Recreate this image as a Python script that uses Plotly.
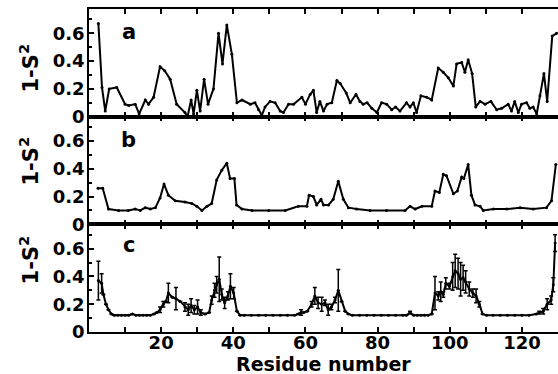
import plotly.graph_objects as go
from plotly.subplots import make_subplots

# ---- data ----
a_res = [2.6, 3.6, 4.5, 5.6, 7.7, 10, 11, 12.8, 13.9, 15.6, 16.5, 17.9, 19.7, 21, 22.5, 24.3,
         26.6, 27.3, 28.3, 29, 29.9, 30.8, 31.9, 33, 34.5, 35.9, 37, 38.2, 39.6, 41, 42.4, 44.7,
         46, 47, 47.9, 48.8, 50.2, 51.6, 53, 53.9, 55.3, 56.7, 59, 60, 61.3, 62.2, 63.1, 64, 65,
         66, 67.3, 68.7, 69.6, 71.3, 72.4, 74, 75.1, 76, 77.1, 78.4, 79.8, 81.1, 82.5, 83.9, 85,
         86.2, 88, 89, 89.9, 90.8, 92, 93.6, 95, 96.8, 98.2, 99.6, 101, 101.9, 103.3, 104.2,
         105.1, 106.2, 107.2, 108.4, 109.8, 111.4, 113, 114.4, 116.2, 117.1, 118, 119, 119.9,
         121.3, 122.2, 123.1, 124.1, 125, 126.1, 127, 128.4, 129.6]
a_val = [0.67, 0.21, 0.04, 0.20, 0.21, 0.09, 0.08, 0.09, 0.02, 0.12, 0.09, 0.14, 0.36, 0.33, 0.27, 0.09,
         0.03, 0.00, 0.12, 0.02, 0.19, 0.04, 0.27, 0.09, 0.20, 0.60, 0.38, 0.66, 0.45, 0.10, 0.12, 0.09,
         0.10, 0.05, 0.01, 0.07, 0.11, 0.10, 0.04, 0.03, 0.09, 0.09, 0.14, 0.09, 0.16, 0.19, 0.03, 0.11, 0.04,
         0.09, 0.10, 0.26, 0.24, 0.17, 0.10, 0.16, 0.11, 0.09, 0.10, 0.06, 0.03, 0.10, 0.09, 0.05, 0.07,
         0.04, 0.10, 0.07, 0.10, 0.03, 0.15, 0.14, 0.12, 0.35, 0.32, 0.28, 0.22, 0.38, 0.39, 0.32,
         0.41, 0.31, 0.07, 0.11, 0.09, 0.11, 0.05, 0.06, 0.09, 0.04, 0.11, 0.03, 0.09,
         0.10, 0.06, 0.07, 0.02, 0.15, 0.31, 0.11, 0.58, 0.60]

b_res = [2.5, 3.8, 5.4, 8.2, 10.9, 12.8, 14.2, 15.6, 17, 18.4, 19.7, 20.8, 22, 23.9, 26.6, 28.5,
         29.9, 31.3, 32.7, 34, 35.4, 36.8, 38.2, 39.1, 40.3, 40.9, 42.4, 45.2, 49.8, 54.4, 58, 60.4,
         61, 62.2, 63.1, 64.3, 65, 66.4, 67.7, 69.1, 70.5, 71.9, 74.2, 77.9, 82.5, 87.6, 89, 90.4,
         92.3, 95, 95.9, 97.1, 98.2, 99.1, 101, 102.1, 103.3, 103.9, 105.1, 106, 107, 108.4, 109.3,
         112.1, 115.8, 119.5, 123.1, 126.8, 128.2, 129.4]
b_val = [0.26, 0.26, 0.11, 0.10, 0.10, 0.11, 0.10, 0.12, 0.11, 0.12, 0.19, 0.29, 0.21, 0.17, 0.16, 0.15,
         0.13, 0.10, 0.13, 0.15, 0.32, 0.39, 0.44, 0.33, 0.33, 0.14, 0.11, 0.10, 0.10, 0.10, 0.13, 0.13,
         0.21, 0.20, 0.14, 0.18, 0.14, 0.14, 0.18, 0.31, 0.18, 0.12, 0.11, 0.10, 0.10, 0.10, 0.13, 0.11,
         0.13, 0.13, 0.24, 0.23, 0.36, 0.35, 0.22, 0.24, 0.34, 0.33, 0.43, 0.21, 0.14, 0.13, 0.10,
         0.11, 0.11, 0.12, 0.11, 0.12, 0.17, 0.43]

c_res = [2.6, 3.5, 4.0, 4.7, 5.4, 6.2, 7, 8, 9, 10, 11, 12, 13, 14, 15, 16, 17, 18, 18.8, 19.7,
         20.6, 21.3, 22, 23.1, 24.1, 25.3, 26.6, 27.5, 28.3, 29.2, 30.1, 31, 32.2, 33.3, 34, 34.8,
         35.4, 36.1, 36.8, 37.6, 38.5, 39.2, 40.1, 41, 41.9, 43, 45, 47, 49, 51, 53, 55, 57, 58,
         58.8, 59.5, 60.5, 61.7, 62.6, 63.5, 64.5, 65.4, 66.3, 67.2, 68.2, 69.1, 70, 71, 71.9, 73,
         75, 77, 79, 81, 83, 85, 87, 88, 89, 90, 91, 92, 93, 94, 95, 95.9, 96.8, 97.5, 98.2, 98.9,
         99.9, 100.8, 101.5, 102.3, 103, 103.7, 104.4, 105.4, 106.4, 107.3, 108.2, 109.1, 110.2,
         112, 114, 116, 118, 120, 122, 124, 124.8, 125.9, 127, 128.1, 128.7, 129.2]
c_val = [0.37, 0.35, 0.27, 0.20, 0.16, 0.13, 0.12, 0.12, 0.12, 0.12, 0.12, 0.13, 0.12, 0.12, 0.12, 0.12, 0.12, 0.13, 0.14, 0.16,
         0.20, 0.22, 0.28, 0.25, 0.24, 0.22, 0.18, 0.16, 0.19, 0.16, 0.18, 0.14, 0.13, 0.14, 0.23, 0.30,
         0.34, 0.38, 0.27, 0.21, 0.26, 0.33, 0.28, 0.15, 0.12, 0.12, 0.12, 0.12, 0.12, 0.12, 0.12, 0.12, 0.12, 0.13,
         0.14, 0.14, 0.15, 0.20, 0.26, 0.21, 0.20, 0.21, 0.16, 0.18, 0.23, 0.30, 0.22, 0.15, 0.13, 0.12,
         0.12, 0.12, 0.12, 0.12, 0.12, 0.12, 0.12, 0.12, 0.14, 0.12, 0.12, 0.12, 0.12, 0.12, 0.13, 0.28, 0.26, 0.29, 0.27, 0.35,
         0.33, 0.40, 0.44, 0.42, 0.38, 0.39, 0.36, 0.31, 0.28, 0.26, 0.20, 0.13, 0.12,
         0.12, 0.12, 0.12, 0.12, 0.12, 0.12, 0.13, 0.14, 0.15, 0.20, 0.23, 0.34, 0.64]
c_err = [0.14, 0.07, 0, 0, 0, 0, 0, 0, 0, 0, 0, 0, 0, 0, 0, 0, 0, 0, 0, 0.02,
         0.02, 0, 0.07, 0, 0.08, 0, 0.03, 0.04, 0.05, 0.03, 0.05, 0.02, 0, 0, 0.03, 0.05,
         0.06, 0.16, 0.04, 0.04, 0.03, 0.09, 0.04, 0, 0, 0, 0, 0, 0, 0, 0, 0, 0, 0,
         0.02, 0, 0, 0.02, 0.06, 0.04, 0.05, 0.02, 0.04, 0.02, 0.02, 0.15, 0, 0, 0, 0,
         0, 0, 0, 0, 0, 0, 0, 0, 0.01, 0, 0, 0, 0, 0, 0, 0.12, 0.03, 0.07, 0.02, 0.04,
         0.02, 0.10, 0.12, 0.11, 0.12, 0.09, 0.08, 0.05, 0.03, 0.05, 0.02, 0, 0,
         0, 0, 0, 0, 0, 0, 0, 0.01, 0.02, 0.04, 0.03, 0.05, 0.06]

panel_labels = ["a", "b", "c"]
y_title = "1-S<sup>2</sup>"
x_title = "Residue number"
x_tickvals = [20, 40, 60, 80, 100, 120]
y_tickvals = [0, 0.2, 0.4, 0.6]
y_ticktext = ["0", "0.2", "0.4", "0.6"]

FONT = "DejaVu Sans"

fig = make_subplots(rows=3, cols=1, shared_xaxes=True, vertical_spacing=0)

series = [(a_res, a_val, None), (b_res, b_val, None), (c_res, c_val, c_err)]
for i, (xs, ys, es) in enumerate(series, start=1):
    kw = {}
    if es is not None:
        kw["error_y"] = dict(type="data", array=es, visible=True, color="black",
                             thickness=1.5, width=2)
    fig.add_trace(go.Scatter(x=xs, y=ys, mode="lines+markers",
                             line=dict(color="black", width=2),
                             marker=dict(color="black", size=3),
                             showlegend=False, hoverinfo="skip", **kw),
                  row=i, col=1)

fig.update_xaxes(range=[0, 130], showline=True, linewidth=1.5, linecolor="black",
                 mirror="ticks", ticks="inside", ticklen=5, tickwidth=1.5, tickcolor="black",
                 tickvals=x_tickvals, ticklabelstandoff=-6,
                 minor=dict(dtick=10, tick0=0, ticks="inside", ticklen=5, tickwidth=1.5,
                            tickcolor="black", showgrid=False),
                 showgrid=False, zeroline=False,
                 tickfont=dict(family=FONT, size=18, color="black", weight="bold"))
fig.update_yaxes(range=[0, 0.775], showline=True, linewidth=1.5, linecolor="black",
                 mirror=False, ticks="inside", ticklen=5, tickwidth=1.5, tickcolor="black",
                 tickvals=y_tickvals, ticktext=y_ticktext, ticklabelstandoff=-1,
                 minor=dict(dtick=0.1, tick0=0, ticks="inside", ticklen=3, tickwidth=1.5,
                            tickcolor="black", showgrid=False),
                 showgrid=False, zeroline=False,
                 tickfont=dict(family=FONT, size=18, color="black", weight="bold"))

annotations = []
letter_pos = [0.79, 0.78, 0.81]
title_pos = [0.817, 0.529, 0.223]
for i, lab in enumerate(panel_labels):
    ax = "" if i == 0 else str(i + 1)
    annotations.append(dict(text=lab, xref="x%s domain" % ax, yref="y%s domain" % ax,
                            x=0.085, y=letter_pos[i], showarrow=False,
                            xanchor="center", yanchor="middle",
                            font=dict(family=FONT, size=21, color="black", weight="bold")))
    annotations.append(dict(text=y_title, xref="paper", yref="paper",
                            x=-0.127, y=title_pos[i], showarrow=False, textangle=-90,
                            xanchor="center", yanchor="middle",
                            font=dict(family=FONT, size=21, color="black", weight="bold")))
annotations.append(dict(text=x_title, xref="paper", yref="paper", x=0.5, y=-0.1,
                        showarrow=False, xanchor="center", yanchor="middle",
                        font=dict(family=FONT, size=19, color="black", weight="bold")))

fig.update_layout(width=558, height=374, margin=dict(l=89, r=0, t=9, b=42),
                  paper_bgcolor="white", plot_bgcolor="white",
                  annotations=annotations)

fig.write_html("out.html")
